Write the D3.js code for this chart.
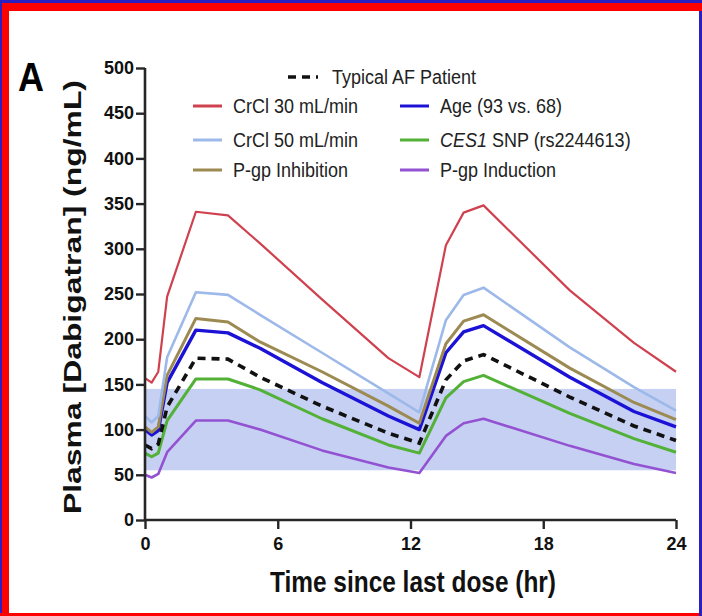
<!DOCTYPE html>
<html><head><meta charset="utf-8">
<script src="https://cdn.jsdelivr.net/npm/d3@7"></script>
<style>body{margin:0;background:#fff}svg{display:block}</style>
</head><body>
<svg id="c" width="702" height="616"></svg>
<script>
// ---- data ----
const times = [0, 0.3, 0.6, 1.0, 2.3, 3.75, 5.2, 8.0, 11.0, 12.4, 13.6, 14.4, 15.3, 19.2, 22.1, 24];
const crcl30   = [157, 152, 164, 247, 341, 337, 306, 244, 179, 158, 304, 340, 348, 254, 196, 164];
const crcl50   = [115, 108, 115, 180, 252, 249, 227, 185, 140, 119, 221, 249, 257, 191, 147, 121];
const pgpInhib = [103,  97, 103, 160, 223, 219, 197, 164, 126, 107, 195, 220, 227, 168, 130, 111];
const age      = [100,  94,  99, 152, 210, 207, 190, 152, 115, 100, 185, 208, 215, 158, 120, 103];
const ces1     = [ 74,  70,  74, 110, 156, 156, 144, 112,  83,  74, 135, 153, 160, 118,  90,  75];
const pgpInduc = [ 50,  47,  51,  75, 110, 110, 100,  77,  58,  52,  93, 107, 112,  82,  62,  52];
const typical  = [ 83,  79,  84, 125, 179, 178, 158, 126,  96,  85, 155, 176, 183, 136, 104,  88];
const bandRange = [55, 145];
const xTicks = [0, 6, 12, 18, 24];
const yTicks = [0, 50, 100, 150, 200, 250, 300, 350, 400, 450, 500];
const seriesNames = ["CrCl 30 mL/min", "CrCl 50 mL/min", "P-gp Inhibition", "Age (93 vs. 68)", "CES1 SNP (rs2244613)", "P-gp Induction"];
const typicalName = "Typical AF Patient";

// ---- build ----
const svg = d3.select("#c");
const FONT = "Liberation Sans, Arial, sans-serif";

// frame
svg.append("rect").attr("x",0).attr("y",0).attr("width",702).attr("height",616).attr("fill","#fff");
svg.append("rect").attr("x",0).attr("y",0).attr("width",702).attr("height",3).attr("fill","#2a1fc0");
svg.append("rect").attr("x",0).attr("y",3).attr("width",702).attr("height",8).attr("fill","#ff0000");
svg.append("rect").attr("x",0).attr("y",3).attr("width",2).attr("height",613).attr("fill","#2a1fc0");
svg.append("rect").attr("x",2).attr("y",3).attr("width",7).attr("height",613).attr("fill","#ff0000");
svg.append("rect").attr("x",0).attr("y",613).attr("width",699).attr("height",3).attr("fill","#ff0000");
svg.append("rect").attr("x",699).attr("y",11).attr("width",3).attr("height",605).attr("fill","#2a1fc0");

const x = d3.scaleLinear().domain([0,24]).range([145,676]);
const y = d3.scaleLinear().domain([0,500]).range([520,68]);

// therapeutic band
svg.append("rect")
  .attr("x", x(0)).attr("width", x(24)-x(0))
  .attr("y", y(bandRange[1])).attr("height", y(bandRange[0])-y(bandRange[1]))
  .attr("fill","#c6d0f2");

const series = [
  {name: seriesNames[0], vals: crcl30,   color:"#d0414f", w:2.2},
  {name: seriesNames[1], vals: crcl50,   color:"#9db9ea", w:2.6},
  {name: seriesNames[2], vals: pgpInhib, color:"#9c8a52", w:3},
  {name: seriesNames[3], vals: age,      color:"#1c12d6", w:3.4},
  {name: seriesNames[4], vals: ces1,     color:"#52b136", w:3},
  {name: seriesNames[5], vals: pgpInduc, color:"#9352d2", w:2.6}
];
const line = d3.line().x((d,i)=>x(times[i])).y(d=>y(d));

const drawOrder = [5,4,3,2,1,0];
drawOrder.forEach(k=>{
  const s = series[k];
  svg.append("path").datum(s.vals).attr("d", line)
    .attr("fill","none").attr("stroke", s.color).attr("stroke-width", s.w)
    .attr("stroke-linejoin","round");
});
svg.append("path").datum(typical).attr("d", line)
  .attr("fill","none").attr("stroke","#111").attr("stroke-width",3.6)
  .attr("stroke-dasharray","8,6");

// axes
const yAxis = svg.append("g").attr("transform",`translate(${x(0)},0)`)
  .call(d3.axisLeft(y).tickValues(yTicks).tickSize(9).tickPadding(2).tickSizeOuter(0));
const xAxis = svg.append("g").attr("transform",`translate(0,${y(0)})`)
  .call(d3.axisBottom(x).tickValues(xTicks).tickSize(9).tickPadding(8).tickSizeOuter(0));
[yAxis, xAxis].forEach(g=>{
  g.select(".domain").attr("stroke","#262626").attr("stroke-width",2.6);
  g.selectAll(".tick line").attr("stroke","#262626").attr("stroke-width",2.4);
  g.selectAll(".tick text").attr("fill","#111").attr("font-family",FONT)
    .attr("font-weight","bold").attr("font-size",18);
});
yAxis.select(".domain").attr("d", `M0,${y(0)}V${y(500)}`);
xAxis.select(".domain").attr("d", `M${x(0)},0H${x(24)}`);

// axis titles
svg.append("text").attr("font-family",FONT).attr("font-weight","bold")
  .attr("font-size",25).attr("text-anchor","middle").attr("fill","#111")
  .attr("transform",`translate(413,592) scale(1,1.2)`)
  .attr("textLength",286).attr("lengthAdjust","spacingAndGlyphs")
  .text("Time since last dose (hr)");
svg.append("text").attr("font-family",FONT).attr("font-weight","bold")
  .attr("font-size",23).attr("text-anchor","middle").attr("fill","#111")
  .attr("transform",`translate(81,297) rotate(-90)`)
  .attr("textLength",434).attr("lengthAdjust","spacingAndGlyphs")
  .text("Plasma [Dabigatran] (ng/mL)");

// panel letter
svg.append("text").attr("font-family",FONT).attr("font-weight","bold")
  .attr("font-size",36).attr("fill","#000")
  .attr("transform","translate(18,91) scale(1,1.15)")
  .text("A");

// legend
const lg = svg.append("g").attr("font-family",FONT).attr("font-size",18).attr("fill","#222");
function legText(tx, ty, str, italicFirst){
  const t = lg.append("text").attr("transform",`translate(${tx},${ty}) scale(1,1.1)`).attr("dy","0.35em");
  if (italicFirst){
    const parts = str.split(" ");
    t.append("tspan").attr("font-style","italic").text(parts[0]);
    t.append("tspan").text(" " + parts.slice(1).join(" "));
  } else t.text(str);
}
lg.append("line").attr("x1",288).attr("x2",318).attr("y1",77).attr("y2",77)
  .attr("stroke","#111").attr("stroke-width",3.6).attr("stroke-dasharray","8,6");
legText(332, 77, typicalName, false);
const rowsY = [106, 140, 170];
series.forEach((s,i)=>{
  const col = Math.floor(i/3), row = i%3;
  const lx = col===0 ? 193 : 400;
  const tx = col===0 ? 233 : 440;
  lg.append("line").attr("x1",lx).attr("x2",lx+29).attr("y1",rowsY[row]).attr("y2",rowsY[row])
    .attr("stroke", s.color).attr("stroke-width",3);
  legText(tx, rowsY[row], s.name, i===4);
});
</script>
</body></html>
